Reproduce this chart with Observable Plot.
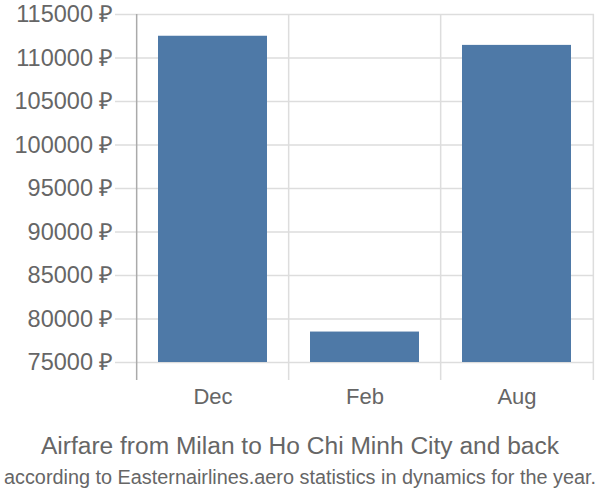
<!DOCTYPE html>
<html>
<head>
<meta charset="utf-8">
<script src="https://cdn.jsdelivr.net/npm/d3@7"></script>
<script src="https://cdn.jsdelivr.net/npm/@observablehq/plot@0.6"></script>
<style>
  body { margin: 0; background: #fff; font-family: "Liberation Sans", Arial, sans-serif; }
  #wrap { width: 600px; }
  #wrap svg { display: block; }
</style>
</head>
<body>
<div id="wrap"></div>
<script>
const months = ["Dec", "Feb", "Aug"];
const prices = [112500, 78500, 111450];
const yTicks = [75000, 80000, 85000, 90000, 95000, 100000, 105000, 110000, 115000];
const titleText = "Airfare from Milan to Ho Chi Minh City and back";
const subtitleText = "according to Easternairlines.aero statistics in dynamics for the year.";

const data = months.map((m, i) => ({month: m, price: prices[i]}));

const width = 600, marginLeft = 136, marginRight = 6;
const step = (width - marginLeft - marginRight) / months.length;

const chart = Plot.plot({
  width,
  height: 420,
  marginTop: 14,
  marginBottom: 58,
  marginLeft,
  marginRight,
  style: {fontFamily: "Liberation Sans, Arial, sans-serif", fontSize: "22px", color: "#666", background: "#fff"},
  x: {type: "band", domain: months, paddingInner: 0.28, paddingOuter: 0.14, label: null},
  y: {domain: [75000, 115000], label: null},
  marks: [
    Plot.ruleY(yTicks, {stroke: "#ddd", strokeWidth: 1.5, insetLeft: -21}),
    Plot.ruleX(months.slice(1), {x: d => d, dx: -step / 2, stroke: "#ddd", strokeWidth: 1.5, insetBottom: -18}),
    Plot.ruleX(months.slice(-1), {x: d => d, dx: step / 2, stroke: "#ddd", strokeWidth: 1.5, insetBottom: -18}),
    Plot.ruleX(months.slice(0, 1), {x: d => d, dx: -step / 2, stroke: "#aaa", strokeWidth: 1.5, insetBottom: -18}),
    Plot.rectY(data, {x: "month", y1: 75000, y2: "price", fill: "#4e79a7"}),
    Plot.axisY(yTicks, {tickSize: 0, tickPadding: 23, tickFormat: d => d + " ₽", fontSize: 23.5, fill: "#666", label: null}),
    Plot.axisX({tickSize: 0, tickPadding: 26, fontSize: 22, fill: "#666", label: null})
  ]
});

const wrap = document.getElementById("wrap");
wrap.appendChild(chart);

const cap = d3.select(wrap).append("svg").attr("class", "caption")
  .attr("width", 600).attr("height", 80)
  .style("font-family", "Liberation Sans, Arial, sans-serif");
cap.append("text").attr("x", 300).attr("y", 34).attr("text-anchor", "middle")
  .attr("fill", "#666").attr("font-size", 23.5)
  .attr("textLength", 518).attr("lengthAdjust", "spacingAndGlyphs")
  .text(titleText);
cap.append("text").attr("x", 300).attr("y", 64).attr("text-anchor", "middle")
  .attr("fill", "#666").attr("font-size", 20)
  .attr("textLength", 592).attr("lengthAdjust", "spacingAndGlyphs")
  .text(subtitleText);
</script>
</body>
</html>
